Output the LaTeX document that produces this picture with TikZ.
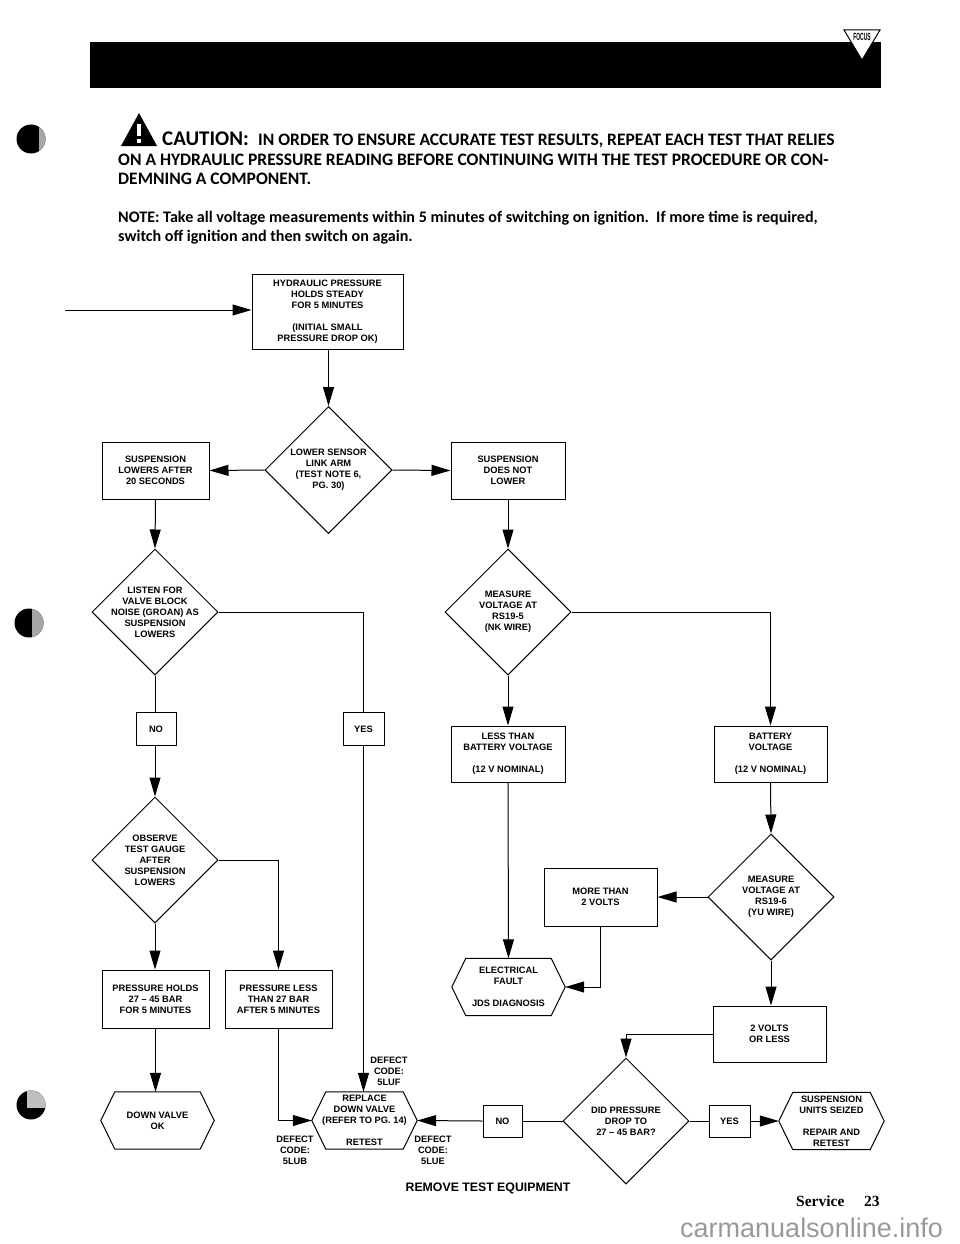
\documentclass[tikz,border=0pt]{standalone}
\usepackage{fontspec}
\setmainfont{Liberation Sans}
\newfontfamily\headfont{Carlito}[BoldFont=Carlito Bold]
\newfontfamily\servfont{Liberation Serif}
\usetikzlibrary{shapes.geometric,arrows.meta,calc}
\tikzset{
  line/.style={line width=1pt,black},
  arr/.style={line,-{Triangle[length=19pt,width=11pt]}},
  lbl/.style={font=\fontsize{9.3}{11}\selectfont\bfseries,align=center,inner sep=0pt},
  boxn/.style={lbl,draw,line width=1pt,inner sep=0pt,minimum width=#1},
  boxn/.default=113pt,
  dia/.style={diamond,draw,line width=1pt,minimum width=126pt,minimum height=126pt,inner sep=0pt,aspect=1},
  hex/.style={lbl,minimum width=113pt,minimum height=57pt},
  head/.style={anchor=base west,inner sep=0pt,font=\headfont\bfseries\fontsize{17.5}{18}\selectfont},
  note/.style={anchor=base west,inner sep=0pt,font=\headfont\bfseries\fontsize{16.1}{18}\selectfont},
}
\newcommand{\hexdraw}[1]{\draw[line width=1pt] (#1.west) -- ($(#1.north west)+(14pt,0)$) -- ($(#1.north east)+(-14pt,0)$) -- (#1.east) -- ($(#1.south east)+(-14pt,0)$) -- ($(#1.south west)+(14pt,0)$) -- cycle;}
\begin{document}
\begin{tikzpicture}[x=1pt,y=-1pt]
\useasboundingbox (0,0) rectangle (960,1244);
% header
\fill (90,42) rectangle (881,88);
\draw[fill=white,line width=1pt] (844,30) -- (880,30) -- (862,60) -- cycle;
\node[inner sep=0pt,font=\bfseries\fontsize{8}{8}\selectfont,xscale=0.62,yscale=1.3] (logo) at (862,37) {FOCUS};
% binding holes
\fill (31,139) circle (14.5);
\begin{scope}\clip (31,139) circle (14.5); \fill[black!35] (39,125) rectangle (46,153);\end{scope}
\fill (29,623) circle (14.5);
\begin{scope}\clip (29,623) circle (14.5); \fill[black!35] (32,608) rectangle (44,638);\end{scope}
\fill (31,1105) circle (14.5);
\begin{scope}\clip (31,1105) circle (14.5); \fill[black!25] (27,1090) rectangle (46,1108);\end{scope}
\fill (121,146) -- (139,113) -- (157,146) -- cycle;
\fill[white] (137,124) rectangle (141,136);
\fill[white] (137,139) rectangle (141,143);
\node[head,font=\headfont\bfseries\fontsize{20.9}{22}\selectfont] (caution) at (162,146) {CAUTION:};
\node[head] (c1) at (258,146) {IN ORDER TO ENSURE ACCURATE TEST RESULTS, REPEAT EACH TEST THAT RELIES};
\node[head] (c2) at (118,165) {ON A HYDRAULIC PRESSURE READING BEFORE CONTINUING WITH THE TEST PROCEDURE OR CON-};
\node[head] (c3) at (118,184) {DEMNING A COMPONENT.};
\node[note] (n1) at (118,222) {NOTE: Take all voltage measurements within 5 minutes of switching on ignition.\ \ If more time is required,};
\node[note] (n2) at (118,241) {switch off ignition and then switch on again.};
% start
\coordinate (start) at (65,310);
\node[boxn=151pt,minimum height=75pt] (top) at (327.5,311.5) {HYDRAULIC PRESSURE\\HOLDS STEADY\\FOR 5 MINUTES\\[11pt](INITIAL SMALL\\PRESSURE DROP OK)};
\node[dia,minimum width=127pt,minimum height=127pt,label={[lbl]center:LOWER SENSOR\\LINK ARM\\(TEST NOTE 6,\\PG. 30)}] (d1) at (328.5,470) {};
\node[boxn=107pt,minimum height=57pt] (lowers) at (155.5,470.5) {SUSPENSION\\LOWERS AFTER\\20 SECONDS};
\node[boxn=114pt,minimum height=57pt] (notlower) at (508,470.5) {SUSPENSION\\DOES NOT\\LOWER};
\node[dia,label={[lbl]center:LISTEN FOR\\VALVE BLOCK\\NOISE (GROAN) AS\\SUSPENSION\\LOWERS}] (d2) at (155,612) {};
\node[dia,label={[lbl]center:MEASURE\\VOLTAGE AT\\RS19-5\\(NK WIRE)}] (d3) at (508,612) {};
\node[boxn=40pt,minimum height=33pt] (no1) at (156,729) {NO};
\node[boxn=41pt,minimum height=33pt] (yes1) at (363.5,729) {YES};
\node[boxn=114pt,minimum height=56pt] (less) at (508,754) {LESS THAN\\BATTERY VOLTAGE\\[11pt](12 V NOMINAL)};
\node[boxn=113pt,minimum height=56pt] (batt) at (770.5,754) {BATTERY\\VOLTAGE\\[11pt](12 V NOMINAL)};
\node[dia,label={[lbl]center:OBSERVE\\TEST GAUGE\\AFTER\\SUSPENSION\\LOWERS}] (d4) at (155,860) {};
\node[dia,label={[lbl]center:MEASURE\\VOLTAGE AT\\RS19-6\\(YU WIRE)}] (d5) at (771,897) {};
\node[boxn=113pt,minimum height=58pt] (more) at (600.5,897) {MORE THAN\\2 VOLTS};
\node[hex] (elec) at (508.5,987) {ELECTRICAL\\FAULT\\[11pt]JDS DIAGNOSIS};
\hexdraw{elec}
\node[boxn=107pt,minimum height=58pt] (holds) at (155.5,999) {PRESSURE HOLDS\\27 -- 45 BAR\\FOR 5 MINUTES};
\node[boxn=107pt,minimum height=58pt] (plt) at (278.5,999) {PRESSURE LESS\\THAN 27 BAR\\AFTER 5 MINUTES};
\node[boxn=113pt,minimum height=56pt] (two) at (769.5,1034) {2 VOLTS\\OR LESS};
\node[hex] (down) at (157.5,1120.5) {DOWN VALVE\\OK};
\hexdraw{down}
\node[hex,minimum width=105pt] (rep) at (364.5,1120.5) {REPLACE\\DOWN VALVE\\(REFER TO PG. 14)\\[11pt]RETEST};
\hexdraw{rep}
\node[boxn=39pt,minimum height=32pt] (no2) at (502.5,1121) {NO};
\node[dia,label={[lbl]center:DID PRESSURE\\DROP TO\\27 -- 45 BAR?}] (d6) at (626,1121) {};
\node[boxn=41pt,minimum height=32pt] (yes2) at (729.5,1121) {YES};
\node[hex,minimum width=105pt] (seized) at (831.5,1121) {SUSPENSION\\UNITS SEIZED\\[11pt]REPAIR AND\\RETEST};
\hexdraw{seized}
\node[lbl] (cf) at (389,1071) {DEFECT\\CODE:\\5LUF};
\node[lbl] (cb) at (295,1150) {DEFECT\\CODE:\\5LUB};
\node[lbl] (ce) at (433,1150) {DEFECT\\CODE:\\5LUE};
\node[inner sep=0pt,font=\fontsize{12.3}{13}\selectfont\bfseries] (remove) at (488,1188) {REMOVE TEST EQUIPMENT};
\node[inner sep=0pt,anchor=base west,font=\servfont\bfseries\fontsize{15.5}{15}\selectfont] (serv) at (796,1206) {Service};
\node[inner sep=0pt,anchor=base west,font=\servfont\bfseries\fontsize{15.5}{15}\selectfont] (pg) at (864,1206) {23};
\node[inner sep=0pt,anchor=west,text=black!40,font=\fontsize{27}{27}\selectfont] (wm) at (680,1228) {carmanualsonline.info};
% connectors
\draw[arr] (start) -- (start -| top.west);
\draw[arr] (top.south -| d1.north) -- (d1.north);
\draw[arr] (d1.west) -- (lowers.east);
\draw[arr] (d1.east) -- (notlower.west);
\draw[arr] (lowers.south) -- (d2.north);
\draw[arr] (notlower.south) -- (d3.north);
\draw[line] (d2.south) -- (no1.north -| d2.south);
\draw[arr] (no1.south -| d4.north) -- (d4.north);
\draw[line] (d2.east) -| (yes1.north);
\draw[arr] (yes1.south) -- (yes1.south |- rep.north);
\draw[arr] (d3.south) -- (less.north);
\draw[arr] (d3.east) -| (batt.north);
\draw[arr] (batt.south) -- (d5.north);
\draw[arr] (d4.south) -- (holds.north -| d4.south);
\draw[arr] (d4.east) -| (plt.north);
\draw[arr] (holds.south) -- (holds.south |- down.north);
\draw[arr] (plt.south) |- (rep.west);
\draw[arr] (less.south) -- (elec.north);
\draw[arr] (d5.west) -- (more.east);
\draw[arr] (more.south) |- (elec.east);
\draw[arr] (d5.south) -- (d5.south |- two.north);
\draw[arr] (two.west) -| (d6.north);
\draw[line] (d6.west) -- (no2.east);
\draw[arr] (no2.west) -- (rep.east);
\draw[line] (d6.east) -- (yes2.west);
\draw[arr] (yes2.east) -- (seized.west);
\end{tikzpicture}
\end{document}
